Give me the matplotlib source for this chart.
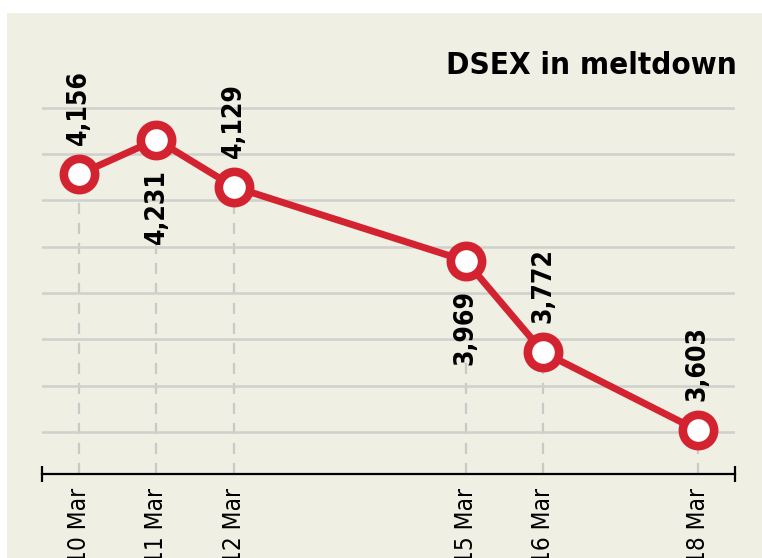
import matplotlib.pyplot as plt
from matplotlib.patches import Rectangle

# DSEX closing index
days = [10, 11, 12, 15, 16, 18]
date_labels = ["10 Mar", "11 Mar", "12 Mar", "15 Mar", "16 Mar", "18 Mar"]
dsex = [4156, 4231, 4129, 3969, 3772, 3603]
label_side = ["above", "below", "above", "below", "above", "above"]
grid_levels = [3600, 3700, 3800, 3900, 4000, 4100, 4200, 4300]

red = "#d42330"
bg = "#f0efe4"
fonts = ["Liberation Sans Narrow", "DejaVu Sans"]

W, H = 762, 558
fig = plt.figure(figsize=(W / 100, H / 100), dpi=100, facecolor="white")
fig.patches.append(Rectangle((7 / W, 0), 1, (H - 13) / H, transform=fig.transFigure,
                             facecolor=bg, edgecolor="none", zorder=0))

ax_h = 434
ax = fig.add_axes([42 / W, 84 / H, 693 / W, ax_h / H], zorder=2)
ax.set_facecolor("none")
ymin, ymax = 3509, 4446
ax.set_xlim(9.52, 18.48)
ax.set_ylim(ymin, ymax)

for s in ["top", "right", "left"]:
    ax.spines[s].set_visible(False)
ax.spines["bottom"].set_linewidth(1.6)
ax.spines["bottom"].set_color("black")

ax.set_yticks(grid_levels)
ax.set_yticklabels([])
ax.grid(axis="y", color="#d0d0cc", linewidth=1.8, zorder=0)
ax.tick_params(axis="y", length=0)

ax.set_xticks(days)
ax.set_xticklabels(date_labels, rotation=90, fontsize=17.5, family=fonts,
                   fontstretch="condensed")
ax.tick_params(axis="x", length=0, pad=10)

# end caps of the axis line
ax.plot([9.52, 18.48], [ymin, ymin], linestyle="none", marker="|", markersize=12,
        markeredgewidth=1.6, color="black", clip_on=False, zorder=4)

# dashed drop lines
px_per_unit = ax_h / (ymax - ymin)
gap = 98 / px_per_unit
for d, v, side in zip(days, dsex, label_side):
    top = v if side == "above" else v - gap
    ax.plot([d, d], [ymin, top], color="#c9c9c6", linewidth=1.6,
            linestyle=(0, (5, 4)), zorder=1)

ax.plot(days, dsex, color=red, linewidth=5, marker="o", markersize=22.5,
        markerfacecolor="white", markeredgecolor=red, markeredgewidth=6.2,
        zorder=3, solid_capstyle="round")

for d, v, side in zip(days, dsex, label_side):
    if side == "above":
        off, va = 21, "bottom"
    else:
        off, va = -21, "top"
    ax.annotate(f"{v:,}", (d, v), xytext=(0, off), textcoords="offset points",
                rotation=90, ha="center", va=va, fontsize=19, fontweight="bold",
                family=fonts, fontstretch="condensed", zorder=5)

fig.text(737 / W, 1 - 65 / H, "DSEX in meltdown", ha="right", va="center",
         fontsize=22.5, fontweight="bold", family=fonts, fontstretch="condensed")

fig.savefig("out.png", dpi=100, facecolor="white")
